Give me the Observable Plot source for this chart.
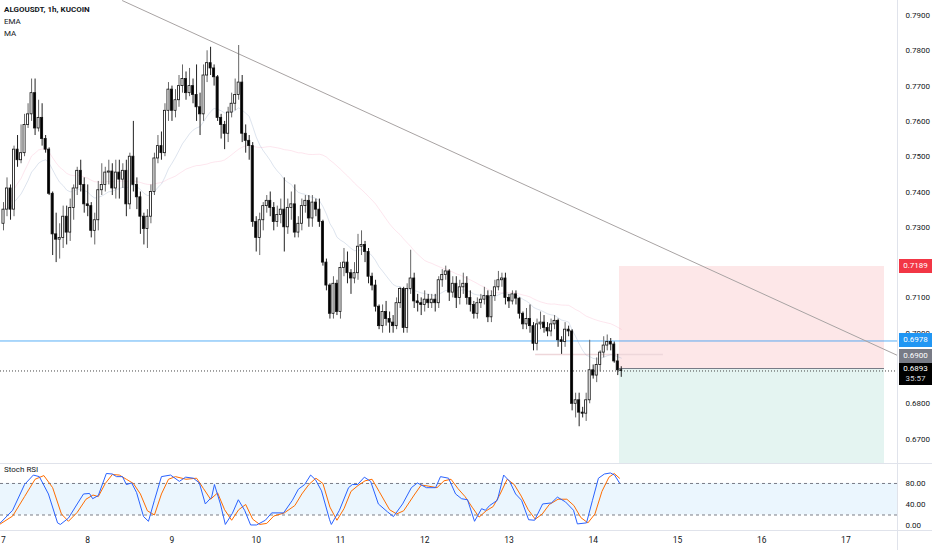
<!DOCTYPE html>
<html><head><meta charset="utf-8">
<script src="https://cdn.jsdelivr.net/npm/d3@7"></script>
<script src="https://cdn.jsdelivr.net/npm/@observablehq/plot@0.6"></script>
<style>
body{margin:0;background:#fff;font-family:Roboto,"Liberation Sans",sans-serif;}
#wrap{position:relative;width:932px;height:550px;overflow:hidden;background:#fff}
#main,#osc{position:absolute;left:0}
#main{top:0}#osc{top:463px}
.lg{position:absolute;left:4px;font-size:8px;color:#131722;line-height:12px;white-space:nowrap}
.lbl{position:absolute;left:899px;width:33px;font-size:8px;color:#fff;text-align:center;line-height:14px}
.sep{position:absolute;background:#e0e3eb}
</style></head><body>
<div id="wrap"><div id="main"></div><div id="osc"></div></div>
<script>
// ---- data (hourly candles, h = hours since day 7 00:00) ----
const dayLabels = ["7","8","9","10","11","12","13","14","15","16","17"];
const firstOpen = 0.7310;
const closes = [.7350,.7410,.7350,.7520,.7490,.7510,.7590,.7620,.7680,.7580,.7610,.7550,.7520,.7395,.7280,.7265,.7270,.7330,.7285,.7355,
.7410,.7460,.7420,.7365,.7360,.7290,.7320,.7405,.7420,.7455,.7458,.7410,.7455,.7435,.7460,.7365,.7500,.7420,.7385,.7330,
.7295,.7330,.7400,.7495,.7530,.7510,.7630,.7690,.7630,.7660,.7700,.7720,.7680,.7700,.7675,.7640,.7620,.7730,.7765,.7750,
.7725,.7610,.7590,.7565,.7625,.7650,.7675,.7710,.7565,.7545,.7530,.7315,.7270,.7320,.7360,.7375,.7355,.7315,.7335,.7350,
.7300,.7355,.7365,.7285,.7310,.7360,.7375,.7325,.7370,.7350,.7315,.7200,.7135,.7055,.7140,.7060,.7185,.7200,.7170,.7155,
.7170,.7245,.7250,.7230,.7160,.7135,.7075,.7020,.7060,.7040,.7030,.7020,.7085,.7125,.7015,.7125,.7155,.7090,.7085,.7080,
.7095,.7085,.7095,.7085,.7150,.7165,.7175,.7115,.7140,.7100,.7130,.7140,.7100,.7080,.7055,.7085,.7095,.7105,.7045,.7105,
.7130,.7150,.7155,.7100,.7090,.7110,.7098,.7055,.7025,.7040,.7020,.6970,.7025,.7030,.7015,.7005,.7025,.7035,.6980,.6975,
.7010,.7005,.6800,.6810,.6775,.6772,.6810,.6895,.6880,.6910,.6945,.6965,.6975,.6968,.6920,.6895,.6893];
const highs = [.7370,.7440,.7420,.7530,.7560,.7590,.7620,.7650,.7720,.7720,.7660,.7650,.7560,.7525,.7400,.7340,.7310,.7360,.7360,.7380,
.7420,.7470,.7490,.7440,.7420,.7370,.7340,.7430,.7480,.7470,.7490,.7480,.7490,.7490,.7480,.7490,.7510,.7600,.7440,.7400,
.7340,.7350,.7420,.7510,.7560,.7570,.7650,.7710,.7700,.7690,.7730,.7760,.7740,.7750,.7720,.7760,.7680,.7760,.7800,.7810,
.7760,.7730,.7620,.7600,.7640,.7680,.7720,.7815,.7730,.7590,.7560,.7540,.7330,.7340,.7370,.7390,.7400,.7370,.7360,.7380,
.7440,.7380,.7400,.7420,.7330,.7380,.7390,.7390,.7390,.7380,.7380,.7320,.7210,.7140,.7160,.7150,.7200,.7240,.7230,.7180,
.7200,.7280,.7290,.7260,.7240,.7170,.7150,.7080,.7080,.7090,.7060,.7050,.7100,.7130,.7130,.7140,.7235,.7170,.7110,.7100,
.7120,.7110,.7110,.7110,.7160,.7180,.7190,.7180,.7160,.7160,.7150,.7170,.7160,.7120,.7090,.7100,.7110,.7130,.7120,.7120,
.7150,.7175,.7170,.7170,.7110,.7120,.7120,.7100,.7060,.7070,.7080,.7030,.7040,.7060,.7050,.7030,.7040,.7050,.7040,.6990,
.7030,.7020,.7010,.6830,.6830,.6790,.6830,.6980,.6910,.6930,.6950,.6990,.6995,.6985,.6975,.6940,.6905];
const lows = [.7290,.7330,.7320,.7330,.7470,.7480,.7500,.7580,.7600,.7560,.7570,.7530,.7510,.7390,.7220,.7200,.7210,.7240,.7250,.7260,
.7320,.7390,.7400,.7340,.7330,.7270,.7250,.7290,.7390,.7400,.7420,.7390,.7380,.7380,.7410,.7330,.7350,.7400,.7350,.7280,
.7250,.7240,.7310,.7390,.7480,.7490,.7500,.7600,.7600,.7610,.7640,.7680,.7660,.7670,.7650,.7600,.7560,.7600,.7710,.7730,
.7700,.7600,.7550,.7520,.7540,.7610,.7630,.7660,.7540,.7510,.7490,.7300,.7230,.7220,.7290,.7340,.7330,.7290,.7300,.7310,
.7230,.7280,.7320,.7270,.7270,.7290,.7340,.7300,.7300,.7330,.7300,.7190,.7120,.7040,.7040,.7050,.7040,.7160,.7140,.7110,
.7140,.7150,.7220,.7200,.7140,.7120,.7060,.7010,.7000,.7020,.7000,.7000,.7010,.7070,.7000,.7000,.7110,.7070,.7060,.7050,
.7060,.7070,.7070,.7060,.7070,.7130,.7150,.7090,.7100,.7070,.7080,.7110,.7080,.7060,.7040,.7040,.7070,.7080,.7030,.7030,
.7090,.7120,.7130,.7080,.7070,.7080,.7080,.7040,.7010,.7010,.7000,.6950,.6950,.7010,.7000,.6990,.6990,.7010,.6960,.6940,
.6960,.6990,.6780,.6760,.6735,.6760,.6750,.6800,.6870,.6860,.6890,.6930,.6950,.6950,.6915,.6880,.6875];

// Stoch RSI: [hour, value]
const stochK = [[-0.9,5],[2.6,29],[6,78],[8.5,96],[10.2,93],[12.8,60],[15.4,5],[16.2,2],[18.5,14],[21,41],[22.8,60],[24.5,61],[25.4,51],[27,57],[29.3,99],[31,98],[32.2,93],[33.9,93],[35,78],[36.5,81],[37.9,63],[39.9,17],[41.3,8],[43,48],[45,93],[47.6,96],[50.1,84],[51.9,92],[54.1,90],[55.8,81],[57.5,41],[59.3,54],[60.1,78],[61.8,41],[63.2,2],[65.2,23],[66.9,49],[68.7,29],[70.4,1],[72.1,1],[74.6,10],[76.4,24],[79.8,24],[82.3,48],[84,69],[85.8,78],[87.5,96],[88.9,87],[90.6,66],[92.9,11],[93.4,2],[95.7,29],[98.3,72],[99.4,78],[100.9,78],[102.8,92],[104.6,84],[106.8,41],[109.4,26],[111.1,17],[113.7,41],[116.2,72],[117.9,81],[120.5,72],[123.1,72],[124.5,93],[126.8,90],[128.8,60],[130.5,51],[132.2,49],[134.2,8],[136.2,32],[137.3,29],[138.5,38],[140.7,48],[142.5,96],[144.2,84],[145.9,60],[147.6,48],[149.6,11],[151.3,10],[153.6,41],[156.1,43],[157.8,54],[160.1,45],[162.4,29],[163.5,3],[166.1,5],[167.8,48],[169.5,90],[171.2,98],[172.9,100],[174.1,96],[175.5,81]];
const stochD = [[-0.9,3],[2.6,18],[6,55],[9,88],[11.5,95],[14,72],[16.5,22],[18.5,8],[21,25],[23.5,50],[25.5,58],[27,55],[29,80],[31,97],[33,96],[35,88],[37,80],[39,60],[41,28],[43,20],[45,60],[47,88],[49,93],[52,88],[55,90],[57,70],[59,50],[61,62],[63,30],[65,10],[67,30],[69,40],[71,12],[73,2],[75,4],[77,18],[80,24],[83,38],[85,60],[87,78],[89,90],[91,80],[93,35],[95,10],[97,32],[99,65],[101,76],[103,85],[105,88],[107,65],[110,30],[112,22],[114,28],[117,58],[119,77],[121,75],[123.5,72],[125.5,85],[127.5,88],[129.5,70],[131.5,55],[133.5,35],[135.5,16],[137.5,28],[139.5,36],[141.5,60],[143.5,88],[145.5,78],[147.5,56],[149.5,30],[151.5,12],[153.5,22],[155.5,40],[158,50],[160.5,50],[162.5,38],[164.5,15],[166.5,5],[168.5,22],[170.5,65],[172.5,92],[174,99],[175.5,90]];

const priceTicks = [0.67,0.68,0.69,0.70,0.71,0.72,0.73,0.74,0.75,0.76,0.77,0.78,0.79];
const stochTicks = [0,40,80];
const trendPts = [{h:33.9,p:0.7942},{h:254.7,p:0.6937}];
const position = {h1:175.5, h2:251, entry:0.6900, stop:0.7189, target:0.6600};
const blueLevel = 0.6978;
const lastPrice = 0.6893;
const countdown = "35:57";
const pinkLevel = {h1:151.6, h2:188, p:0.6940};

// ---- derived ----
const candles = closes.map((c,i)=>({h:i, open: i===0?firstOpen:closes[i-1], close:c, high:highs[i], low:lows[i]}));
candles.forEach(d=>d.up = d.close>=d.open);
let e; const ema = closes.map((c,i)=>{e = i===0?c:e+(2/21)*(c-e); return {h:i,v:e};});
const ma = closes.map((c,i)=>({h:i, v:d3.mean(closes.slice(Math.max(0,i-49),i+1))}));

const xDomain = [-0.855, 254.7];
const font = 'Roboto,"Liberation Sans",sans-serif';

const main = Plot.plot({
  width:932, height:463, marginTop:0, marginBottom:0, marginLeft:0, marginRight:35,
  style:{fontFamily:font, fontSize:"8px", color:"#131722", background:"transparent", overflow:"visible"},
  x:{domain:xDomain, axis:null},
  y:{domain:[0.66309,0.79425], axis:null},
  marks:[
    Plot.rect([position],{x1:"h1",x2:"h2",y1:"entry",y2:"stop",fill:"#f23645",fillOpacity:0.12}),
    Plot.rect([position],{x1:"h1",x2:"h2",y1:"target",y2:"entry",fill:"#089981",fillOpacity:0.11,clip:true}),
    Plot.ruleY([position],{y:"entry",x1:"h1",x2:"h2",stroke:"#787b86",strokeWidth:1}),
    Plot.ruleY([blueLevel],{stroke:"#2196f3",strokeOpacity:0.75,strokeWidth:1}),
    Plot.ruleY([pinkLevel],{y:"p",x1:"h1",x2:"h2",stroke:"#eed7da",strokeWidth:1.5}),
    Plot.line(ma,{x:"h",y:"v",stroke:"#f48fb1",strokeOpacity:0.22,strokeWidth:1}),
    Plot.line(ema,{x:"h",y:"v",stroke:"#90a4c8",strokeOpacity:0.3,strokeWidth:1}),
    Plot.ruleY([lastPrice],{stroke:"#444",strokeDasharray:"1,2",strokeWidth:1}),
    Plot.line(trendPts,{x:"h",y:"p",stroke:"#a8a3a3",strokeWidth:1}),
    Plot.ruleX(candles,{x:"h",y1:"low",y2:"high",stroke:d=>d.up?"#666":"#222",strokeWidth:1}),
    Plot.rect(candles,{x1:d=>d.h-0.3,x2:d=>d.h+0.3,y1:"open",y2:"close",fill:d=>d.up?"#fff":"#000",stroke:"#111",strokeWidth:0.8}),
    Plot.axisY(priceTicks,{anchor:"right",tickSize:0,tickPadding:8,tickFormat:d=>d.toFixed(4),fontSize:8,fill:"#131722"})
  ]
});
document.getElementById("main").appendChild(main);

const osc = Plot.plot({
  width:932, height:87, marginTop:0, marginBottom:20, marginLeft:0, marginRight:35,
  style:{fontFamily:font, fontSize:"8px", color:"#131722", background:"transparent", overflow:"visible"},
  x:{domain:xDomain, axis:null},
  y:{domain:[-9.5,118], axis:null},
  marks:[
    Plot.rect([{}],{x1:xDomain[0],x2:xDomain[1],y1:20,y2:80,fill:"#2196f3",fillOpacity:0.09}),
    Plot.ruleY([20,80],{stroke:"#787b86",strokeDasharray:"3,3",strokeWidth:1}),
    Plot.line(stochD,{x:d=>d[0],y:d=>d[1],stroke:"#ff6d00",strokeWidth:1}),
    Plot.line(stochK,{x:d=>d[0],y:d=>d[1],stroke:"#2962ff",strokeWidth:1}),
    Plot.axisY(stochTicks,{anchor:"right",tickSize:0,tickPadding:8,tickFormat:d=>d.toFixed(2),fontSize:8,fill:"#131722"}),
    Plot.axisX(dayLabels.map((d,i)=>i*24),{anchor:"bottom",tickSize:0,tickPadding:6,tickFormat:(d,i)=>dayLabels[i],fontSize:8.5,fill:"#131722"})
  ]
});
document.getElementById("osc").appendChild(osc);

// ---- overlays: separators, legends, axis labels ----
const wrap = document.getElementById("wrap");
function div(cls, css, html){const el=document.createElement("div");el.className=cls;el.style.cssText=css;if(html!=null)el.innerHTML=html;wrap.appendChild(el);return el;}
div("sep","left:897px;top:0;width:1px;height:550px;");
div("sep","left:0;top:463px;width:932px;height:1px;");
div("sep","left:0;top:530px;width:932px;height:1px;");
div("lg","top:4px;font-weight:bold;","ALGOUSDT, 1h, KUCOIN");
div("lg","top:16px;","EMA");
div("lg","top:28px;","MA");
div("lg","top:464px;","Stoch RSI");

const ys = main.scale("y");
const yStop = ys.apply(position.stop), yBlue = ys.apply(blueLevel), yLast = ys.apply(lastPrice);
div("lbl",`top:${yStop-7}px;height:14px;background:#f23645;`, position.stop.toFixed(4));
div("lbl",`top:${yBlue-7}px;height:14px;background:#2196f3;`, blueLevel.toFixed(4));
div("lbl",`top:${yLast-21}px;height:14px;background:#787b86;`, position.entry.toFixed(4));
div("lbl",`top:${yLast-7}px;height:22px;background:#000;line-height:10px;padding-top:1px;box-sizing:border-box;`, lastPrice.toFixed(4)+'<br><span style="color:#d1d4dc">'+countdown+'</span>');
</script>
</body></html>
